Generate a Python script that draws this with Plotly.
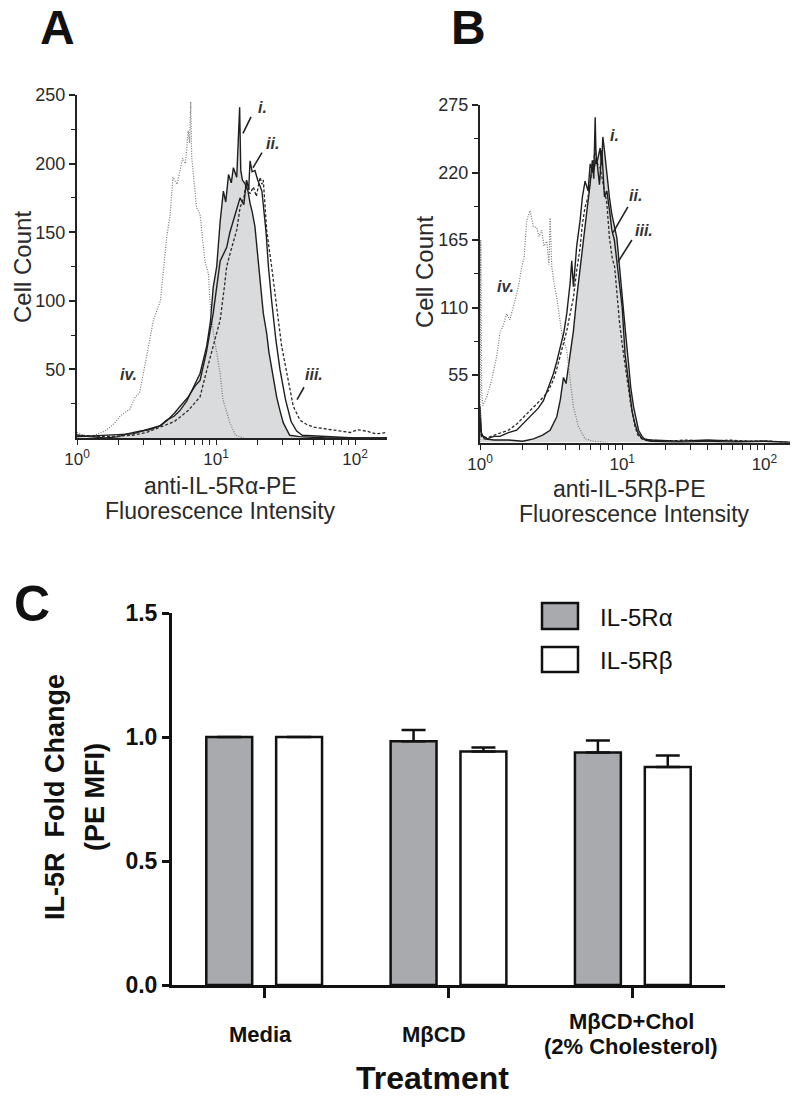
import plotly.graph_objects as go

# ---------------- data ----------------
# Panel A (anti-IL-5Ralpha-PE): x = log10 fluorescence, y = cell count
A_iv_x = [0.00,0.05,0.10,0.15,0.20,0.24,0.28,0.31,0.35,0.38,0.42,0.45,0.50,0.55,0.60,0.645,0.67,0.69,0.72,0.74,0.76,0.78,0.80,0.81,0.818,0.825,0.84,0.86,0.885,0.90,0.92,0.945,0.962,0.99,1.03,1.05,1.10,1.14,1.20]
A_iv_y = [4,2,1,3,5,8,12,16,19,21,30,33,59,86,100,146,163,190,185,195,204,200,224,215,245,205,188,168,163,150,129,120,91,71,47,28,11,2,0]
A_i_x = [0.0,0.1,0.2,0.3,0.36,0.45,0.52,0.6,0.645,0.70,0.74,0.79,0.837,0.885,0.933,0.96,0.98,1.005,1.03,1.053,1.07,1.09,1.11,1.125,1.149,1.157,1.163,1.17,1.178,1.19,1.21,1.23,1.245,1.26,1.28,1.305,1.32,1.34,1.365,1.38,1.40,1.436,1.46,1.484,1.53,1.6,1.8,2.0,2.23]
A_i_y = [2,1,0,1,3,5,6,9,13,16,20,27,37,47,67,85,110,125,158,180,172,192,186,197,190,212,236,241,195,188,185,180,171,165,154,125,112,91,76,63,52,30,20,11,2,1,0,0,0]
A_ii_x = [0.0,0.2,0.4,0.5,0.6,0.65,0.7,0.75,0.8,0.85,0.885,0.93,0.98,1.03,1.077,1.10,1.125,1.15,1.173,1.20,1.22,1.235,1.245,1.26,1.28,1.30,1.33,1.36,1.377,1.40,1.43,1.46,1.50,1.54,1.58,1.62,1.8,2.0,2.23]
A_ii_y = [1,2,3,6,9,13,18,24,30,38,42,62,91,129,139,150,158,166,175,170,188,181,202,194,195,188,180,150,125,100,72,50,28,12,5,2,1,0,0]
A_iii_x = [0.0,0.2,0.4,0.5,0.6,0.7,0.8,0.885,0.93,0.98,1.03,1.06,1.077,1.10,1.125,1.15,1.173,1.20,1.22,1.245,1.269,1.29,1.317,1.33,1.34,1.365,1.40,1.436,1.472,1.51,1.556,1.604,1.65,1.70,1.77,1.844,1.90,1.964,2.02,2.084,2.15,2.228]
A_iii_y = [2,1,2,4,8,12,20,30,48,67,86,110,125,134,144,152,168,175,188,178,183,176,190,185,188,151,125,96,67,47,23,13,10,8,7,6,5,4,6,5,3,4]

# Panel B (anti-IL-5Rbeta-PE)
B_iv_x = [0.0,0.005,0.012,0.02,0.047,0.082,0.117,0.14,0.165,0.188,0.21,0.235,0.258,0.275,0.293,0.31,0.329,0.352,0.375,0.399,0.415,0.434,0.45,0.469,0.485,0.493,0.505,0.52,0.54,0.575,0.61,0.634,0.657,0.692,0.739,0.8,0.9]
B_iv_y = [0,165,40,30,37,51,70,89,96,105,100,110,121,130,143,150,181,189,176,175,168,173,160,164,145,183,143,130,118,89,75,51,29,13,3,1,0]
B_i_x = [0.0,0.01,0.03,0.1,0.2,0.3,0.376,0.44,0.493,0.54,0.565,0.587,0.605,0.622,0.64,0.657,0.68,0.704,0.72,0.739,0.755,0.775,0.79,0.80,0.81,0.815,0.82,0.83,0.845,0.855,0.864,0.875,0.892,0.91,0.927,0.945,0.962,0.986,1.009,1.027,1.045,1.06,1.08,1.1,1.115,1.14,1.162,1.2,1.4,1.6,1.8,2.0,2.18]
B_i_y = [30,8,3,2,2,1,3,6,10,21,35,53,48,62,75,91,118,143,160,178,192,211,230,215,265,240,227,232,240,226,249,238,219,200,186,175,167,137,105,85,64,45,29,18,10,5,2,1,0,1,0,1,0]
B_ii_x = [0.0,0.01,0.05,0.1,0.14,0.2,0.258,0.3,0.376,0.41,0.446,0.48,0.516,0.54,0.563,0.59,0.61,0.634,0.645,0.657,0.68,0.704,0.72,0.739,0.76,0.775,0.795,0.82,0.84,0.857,0.875,0.892,0.91,0.927,0.945,0.962,0.986,1.0,1.02,1.04,1.056,1.07,1.09,1.11,1.14,1.2,1.4,1.6,1.8,2.0,2.18]
B_ii_y = [20,6,3,5,5,8,10,15,24,28,34,45,56,66,78,90,105,130,148,127,160,181,200,213,205,227,220,232,210,238,200,205,190,173,165,148,125,110,72,55,37,25,15,8,3,2,1,2,1,1,0]
B_iii_x = [0.0,0.01,0.05,0.1,0.14,0.2,0.258,0.3,0.376,0.41,0.446,0.48,0.516,0.54,0.563,0.59,0.61,0.634,0.657,0.68,0.704,0.72,0.739,0.76,0.775,0.795,0.81,0.82,0.845,0.862,0.88,0.892,0.91,0.93,0.947,0.962,0.98,1.0,1.02,1.04,1.056,1.075,1.09,1.11,1.14,1.2,1.3,1.45,1.6,1.75,1.9,2.05,2.18]
B_iii_y = [15,5,4,6,7,10,15,20,29,33,37,42,51,60,70,80,91,105,118,140,159,178,192,200,213,225,240,228,224,213,200,195,167,150,143,120,99,80,64,45,34,22,13,6,3,2,1,2,1,2,1,1,0]

# curve labels (log10 x, count) and leader segments [(x0, y0), (x1, y1)]
A_labels = [("i.", 1.331, 241), ("ii.", 1.403, 215), ("iii.", 1.705, 46), ("iv.", 0.367, 46)]
A_leaders = [[(1.194, 222), (1.252, 234)], [(1.266, 197), (1.331, 208)], [(1.583, 28), (1.633, 37)]]
B_labels = [("i.", 0.949, 250), ("ii.", 1.096, 201), ("iii.", 1.152, 173), ("iv.", 0.176, 127)]
B_leaders = [[(0.935, 171), (1.040, 192)], [(0.970, 147), (1.068, 165)]]

# Panel C (bar chart)
categories = ["Media", "MβCD", "MβCD+Chol"]
cat_label_lines = [["Media"], ["MβCD"], ["MβCD+Chol", "(2% Cholesterol)"]]
alpha_vals = [1.0, 0.983, 0.937]
alpha_err = [0.0, 0.045, 0.049]
beta_vals = [1.0, 0.942, 0.879]
beta_err = [0.0, 0.016, 0.046]

hist_x_ticks = [1, 2, 3, 4, 5, 6, 7, 8, 9, 10, 20, 30, 40, 50, 60, 70, 80, 90, 100, 200]
hist_x_ticktext = ["10<sup>0</sup>", "", "", "", "", "", "", "", "", "10<sup>1</sup>",
                   "", "", "", "", "", "", "", "", "10<sup>2</sup>", ""]
A_y_ticks = [50, 100, 150, 200, 250]
A_y_minor = [25, 75, 125, 175, 225]
B_y_ticks = [55, 110, 165, 220, 275]
B_y_minor = [27.5, 82.5, 137.5, 192.5, 247.5]
C_y_ticks = [0, 0.5, 1.0, 1.5]
C_y_ticktext = ["0.0", "0.5", "1.0", "1.5"]

# ---------------- figure ----------------
W, H = 793, 1099
FONT = "Liberation Sans, Arial, sans-serif"
TXT = "#2a2a2a"

def px(x):
    return x / W

def py(y):
    return 1 - y / H

def lin(v):
    return [10 ** t for t in v]

fig = go.Figure()

solid = dict(color="#1e1e1e", width=1.4)
dashed = dict(color="#2a2a2a", width=1.3, dash="3px,2px")
dotted = dict(color="#777777", width=1.2, dash="1px,1.5px")

def add_hist(xa, ya, xb, yb, xc, yc, xd, yd, xref, yref):
    fig.add_trace(go.Scatter(x=lin(xb), y=yb, mode="lines", line=solid, fill="tozeroy",
                             fillcolor="#dadbdc", xaxis=xref, yaxis=yref, hoverinfo="skip"))
    fig.add_trace(go.Scatter(x=lin(xa), y=ya, mode="lines", line=dotted, xaxis=xref, yaxis=yref, hoverinfo="skip"))
    fig.add_trace(go.Scatter(x=lin(xd), y=yd, mode="lines", line=dashed, xaxis=xref, yaxis=yref, hoverinfo="skip"))
    fig.add_trace(go.Scatter(x=lin(xc), y=yc, mode="lines", line=solid, xaxis=xref, yaxis=yref, hoverinfo="skip"))

add_hist(A_iv_x, A_iv_y, A_i_x, A_i_y, A_ii_x, A_ii_y, A_iii_x, A_iii_y, "x", "y")
add_hist(B_iv_x, B_iv_y, B_i_x, B_i_y, B_ii_x, B_ii_y, B_iii_x, B_iii_y, "x2", "y2")

for segs, xref, yref in [(A_leaders, "x", "y"), (B_leaders, "x2", "y2")]:
    for (x0, y0), (x1, y1) in segs:
        fig.add_trace(go.Scatter(x=lin([x0, x1]), y=[y0, y1], mode="lines",
                                 line=dict(color="#222", width=1.6), xaxis=xref, yaxis=yref,
                                 hoverinfo="skip"))

# Panel C bars
fig.add_trace(go.Bar(x=categories, y=alpha_vals, name="IL-5Rα", width=0.249, offset=-0.314,
                     marker=dict(color="#a8aaad", line=dict(color="#111", width=2.5)),
                     error_y=dict(type="data", symmetric=False, array=alpha_err,
                                  arrayminus=[0, 0, 0], color="#111", thickness=2.5, width=12),
                     xaxis="x3", yaxis="y3"))
fig.add_trace(go.Bar(x=categories, y=beta_vals, name="IL-5Rβ", width=0.249, offset=0.065,
                     marker=dict(color="white", line=dict(color="#111", width=2.5)),
                     error_y=dict(type="data", symmetric=False, array=beta_err,
                                  arrayminus=[0, 0, 0], color="#111", thickness=2.5, width=12),
                     xaxis="x3", yaxis="y3"))

hist_xaxis = dict(type="log", tickmode="array", tickvals=hist_x_ticks, ticktext=hist_x_ticktext,
                  ticks="outside", ticklen=5, tickwidth=1.3, tickcolor="#222",
                  showline=True, linecolor="#222", linewidth=2, showgrid=False, zeroline=False,
                  automargin=False, tickfont=dict(family=FONT, size=17, color=TXT))
hist_yaxis = dict(tickmode="array", ticks="outside", ticklen=6, tickwidth=1.5, tickcolor="#222",
                  showline=True, linecolor="#222", linewidth=2, showgrid=False, zeroline=False,
                  automargin=False, tickfont=dict(family=FONT, size=18, color=TXT))

fig.update_layout(
    width=W, height=H, margin=dict(l=0, r=0, t=0, b=0, autoexpand=False),
    paper_bgcolor="white", plot_bgcolor="white", showlegend=False,
    barmode="overlay",
    font=dict(family=FONT, color=TXT),
    xaxis=dict(hist_xaxis, domain=[px(77), px(387)], range=[0, 2.23], anchor="y"),
    yaxis=dict(hist_yaxis, domain=[py(438), py(95)], range=[0, 250], anchor="x",
               tickvals=A_y_ticks,
               minor=dict(tickmode="array", tickvals=A_y_minor, ticks="outside", ticklen=4,
                          tickwidth=1.2, tickcolor="#222", showgrid=False)),
    xaxis2=dict(hist_xaxis, domain=[px(480), px(790)], range=[0, 2.18], anchor="y2"),
    yaxis2=dict(hist_yaxis, domain=[py(442.5), py(105)], range=[0, 275], anchor="x2",
                tickvals=B_y_ticks,
                minor=dict(tickmode="array", tickvals=B_y_minor, ticks="outside", ticklen=4,
                           tickwidth=1.2, tickcolor="#222", showgrid=False)),
    xaxis3=dict(domain=[px(172), px(725)], range=[-0.5, 2.5], anchor="y3", type="category",
                showline=True, linecolor="#111", linewidth=3, ticks="outside", ticklen=10,
                tickwidth=2.5, tickcolor="#111", showticklabels=False, showgrid=False,
                zeroline=False, automargin=False),
    yaxis3=dict(domain=[py(985), py(613)], range=[0, 1.5], anchor="x3",
                tickmode="array", tickvals=C_y_ticks, ticktext=C_y_ticktext,
                showline=True, linecolor="#111", linewidth=3, ticks="outside", ticklen=7,
                tickwidth=2.5, tickcolor="#111", showgrid=False, zeroline=False, automargin=False,
                tickfont=dict(family=FONT, size=23, color="#111", weight="bold")),
)

ann = []

def text(x, y, s, size, bold=False, italic=False, angle=0, xanchor="center", yanchor="middle", color=TXT):
    ann.append(dict(x=px(x), y=py(y), xref="paper", yref="paper", text=s, showarrow=False,
                    xanchor=xanchor, yanchor=yanchor, textangle=angle,
                    font=dict(family=FONT, size=size, color=color,
                              weight="bold" if bold else "normal",
                              style="italic" if italic else "normal")))

# panel letters
text(58, 27, "A", 48, bold=True, color="#111")
text(468, 27, "B", 48, bold=True, color="#111")
text(32, 604, "C", 50, bold=True, color="#111")

# histogram axis titles
text(22, 267, "Cell Count", 24, angle=-90)
text(424, 272, "Cell Count", 24, angle=-90)
text(220, 486, "anti-IL-5Rα-PE", 23)
text(220, 511, "Fluorescence Intensity", 23)
text(629, 489, "anti-IL-5Rβ-PE", 23)
text(634, 514, "Fluorescence Intensity", 23)

# curve labels
for labels, xref, yref in [(A_labels, "x", "y"), (B_labels, "x2", "y2")]:
    for s, lx, ly in labels:
        ann.append(dict(x=lx, y=ly, xref=xref, yref=yref, text=s, showarrow=False,
                        font=dict(family=FONT, size=16, color="#333", weight="bold", style="italic")))

# Panel C labels
text(55, 797, "IL-5R  Fold Change", 27, bold=True, angle=-90, color="#111")
text(95, 797, "(PE MFI)", 27, bold=True, angle=-90, color="#111")
label_pos = [(260, [1034]), (434, [1034]), (631, [1021, 1046])]
for (cx, ys), lines in zip(label_pos, cat_label_lines):
    for yy, s in zip(ys, lines):
        text(cx, yy, s, 22, bold=True, color="#111")
text(432, 1078, "Treatment", 32, bold=True, color="#111")

# legend
shapes = [
    dict(type="rect", xref="paper", yref="paper", x0=px(542), x1=px(578), y0=py(629), y1=py(603),
         fillcolor="#a8aaad", line=dict(color="#111", width=2.5)),
    dict(type="rect", xref="paper", yref="paper", x0=px(542), x1=px(578), y0=py(672), y1=py(647),
         fillcolor="white", line=dict(color="#111", width=2.5)),
]
text(598, 617, "IL-5Rα", 24, xanchor="left", color="#111")
text(598, 660, "IL-5Rβ", 24, xanchor="left", color="#111")

fig.update_layout(annotations=ann, shapes=shapes)
fig.write_html("out.html", config={"displayModeBar": False},
               post_script="document.body.style.margin='0px';")
